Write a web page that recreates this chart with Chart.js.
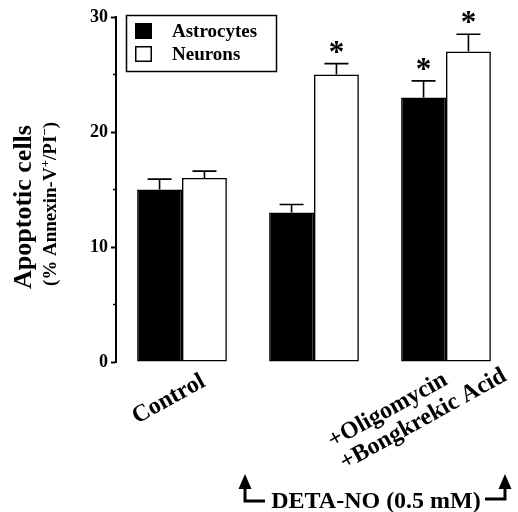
<!DOCTYPE html>
<html>
<head>
<meta charset="utf-8">
<script src="https://cdn.jsdelivr.net/npm/chart.js@4/dist/chart.umd.min.js"></script>
<style>
  html, body { margin: 0; padding: 0; background: #fff; }
  #wrap { width: 518px; height: 512px; }
</style>
</head>
<body>
<div id="wrap"><canvas id="c" width="518" height="512"></canvas></div>
<script>
// Apoptosis (% Annexin-V+/PI-) in astrocytes and neurons
const categories = [["Control"], [""], ["+Oligomycin", "+Bongkrekic Acid"]];
const seriesNames = ["Astrocytes", "Neurons"];
const astrocytes = [15, 13, 23];
const neurons = [16, 25, 27];
const astrocytesErr = [0.9, 0.7, 1.45];
const neuronsErr = [0.6, 0.95, 1.5];
const astrocytesSig = [false, false, true];
const neuronsSig = [false, true, true];
const yTicks = [0, 10, 20, 30];
const treatmentLabel = "DETA-NO (0.5 mM)";

const SERIF = '"Liberation Serif", "Times New Roman", serif';
const errors = [astrocytesErr, neuronsErr];
const stars = [astrocytesSig, neuronsSig];

// error bars (upper half only) and significance stars
const errorBarPlugin = {
  id: 'errorBars',
  afterDatasetsDraw(chart) {
    const ctx = chart.ctx;
    const y = chart.scales.y;
    ctx.save();
    ctx.strokeStyle = '#000';
    ctx.lineWidth = 1.6;
    chart.data.datasets.forEach((ds, di) => {
      const meta = chart.getDatasetMeta(di);
      meta.data.forEach((bar, i) => {
        const top = y.getPixelForValue(ds.data[i] + errors[di][i]);
        ctx.beginPath();
        ctx.moveTo(bar.x, bar.y);
        ctx.lineTo(bar.x, top);
        ctx.moveTo(bar.x - 12, top);
        ctx.lineTo(bar.x + 12, top);
        ctx.stroke();
        if (stars[di][i]) {
          ctx.fillStyle = '#000';
          ctx.font = 'bold 31px ' + SERIF;
          ctx.textAlign = 'center';
          ctx.textBaseline = 'alphabetic';
          ctx.fillText('*', bar.x, top - 17 + 15);
        }
      });
    });
    ctx.restore();
  }
};

// legend box, axis titles, category labels and treatment bracket
const decorPlugin = {
  id: 'decor',
  afterDraw(chart) {
    const ctx = chart.ctx;
    const xs = chart.scales.x;
    const ys = chart.scales.y;
    const area = chart.chartArea;
    ctx.save();
    ctx.fillStyle = '#000';
    ctx.strokeStyle = '#000';

    // minor ticks
    ctx.lineWidth = 1.5;
    [5, 15, 25].forEach(v => {
      const py = ys.getPixelForValue(v);
      ctx.beginPath();
      ctx.moveTo(area.left - 3, py);
      ctx.lineTo(area.left, py);
      ctx.stroke();
    });

    // legend
    ctx.lineWidth = 1.5;
    ctx.strokeRect(126.5, 15.5, 150, 56);
    chart.data.datasets.forEach((ds, i) => {
      const ty = 23 + i * 23;
      ctx.fillStyle = ds.backgroundColor;
      ctx.fillRect(135, ty, 17, 16);
      ctx.strokeRect(135.75, ty + 0.75, 15.5, 14.5);
      ctx.fillStyle = '#000';
      ctx.font = 'bold 19px ' + SERIF;
      ctx.textAlign = 'left';
      ctx.textBaseline = 'middle';
      ctx.fillText(ds.label, 172, ty + 9);
    });

    // y title
    ctx.save();
    ctx.translate(24, 207);
    ctx.rotate(-Math.PI / 2);
    ctx.font = 'bold 26px ' + SERIF;
    ctx.textAlign = 'center';
    ctx.textBaseline = 'middle';
    ctx.fillText('Apoptotic cells', 0, 0);
    ctx.restore();

    // y subtitle with superscripts
    ctx.save();
    ctx.translate(56, 204);
    ctx.rotate(-Math.PI / 2);
    const parts = [
      ['(% Annexin-V', false], ['+', true], ['/PI', false], ['\u2212', true], [')', false]
    ];
    const normalFont = 'bold 19px ' + SERIF;
    const supFont = 'bold 13px ' + SERIF;
    let total = 0;
    parts.forEach(([t, sup]) => { ctx.font = sup ? supFont : normalFont; total += ctx.measureText(t).width; });
    let px = -total / 2;
    ctx.textAlign = 'left';
    ctx.textBaseline = 'alphabetic';
    parts.forEach(([t, sup]) => {
      ctx.font = sup ? supFont : normalFont;
      ctx.fillText(t, px, sup ? -7 : 0);
      px += ctx.measureText(t).width;
    });
    ctx.restore();

    // category labels, rotated
    const angle = -29 * Math.PI / 180;
    const starts = [[-45, 62], [0, 0], [-113, 86]];
    ctx.font = 'bold 24px ' + SERIF;
    ctx.textAlign = 'left';
    ctx.textBaseline = 'alphabetic';
    categories.forEach((lines, i) => {
      const cx = xs.getPixelForValue(i) + starts[i][0];
      const cy = area.bottom + starts[i][1];
      ctx.save();
      ctx.translate(cx, cy);
      ctx.rotate(angle);
      lines.forEach((ln, k) => ctx.fillText(ln, 0, k * 25));
      ctx.restore();
    });

    // treatment bracket
    const lx = xs.getPixelForValue(1) - 69;
    const rx = xs.getPixelForValue(2) + 59;
    ctx.lineWidth = 3;
    ctx.beginPath();
    ctx.moveTo(lx, 486); ctx.lineTo(lx, 501); ctx.lineTo(lx + 20, 501);
    ctx.moveTo(rx - 20, 499); ctx.lineTo(rx, 499); ctx.lineTo(rx, 486);
    ctx.stroke();
    [lx, rx].forEach(ax => {
      ctx.beginPath();
      ctx.moveTo(ax, 474);
      ctx.lineTo(ax - 6.5, 489);
      ctx.lineTo(ax + 6.5, 489);
      ctx.closePath();
      ctx.fill();
    });
    ctx.font = 'bold 24px ' + SERIF;
    ctx.textAlign = 'center';
    ctx.fillText(treatmentLabel, (lx + rx) / 2 + 1, 508);

    ctx.restore();
  }
};

new Chart(document.getElementById('c'), {
  type: 'bar',
  data: {
    labels: categories,
    datasets: [
      { label: seriesNames[0], data: astrocytes, backgroundColor: '#000', borderColor: '#000', borderWidth: 1.6, borderSkipped: false },
      { label: seriesNames[1], data: neurons, backgroundColor: '#fff', borderColor: '#000', borderWidth: 1.6, borderSkipped: false }
    ]
  },
  options: {
    responsive: false,
    devicePixelRatio: 1,
    animation: false,
    categoryPercentage: 0.68,
    barPercentage: 1.0,
    layout: { padding: { left: 0, top: 17, right: 6, bottom: 150 } },
    plugins: { legend: { display: false }, tooltip: { enabled: false } },
    scales: {
      x: { display: false, offset: true },
      y: {
        min: 0, max: 30,
        afterFit(scale) { scale.width = 116; },
        afterBuildTicks(scale) { scale.ticks = yTicks.map(v => ({ value: v })); },
        ticks: { color: '#000', padding: 3, font: { family: SERIF, size: 18, weight: 'bold' } },
        border: { display: true, color: '#000', width: 2 },
        grid: { drawOnChartArea: false, drawTicks: true, tickLength: 5, tickWidth: 2, tickColor: '#000' }
      }
    }
  },
  plugins: [errorBarPlugin, decorPlugin]
});
</script>
</body>
</html>
